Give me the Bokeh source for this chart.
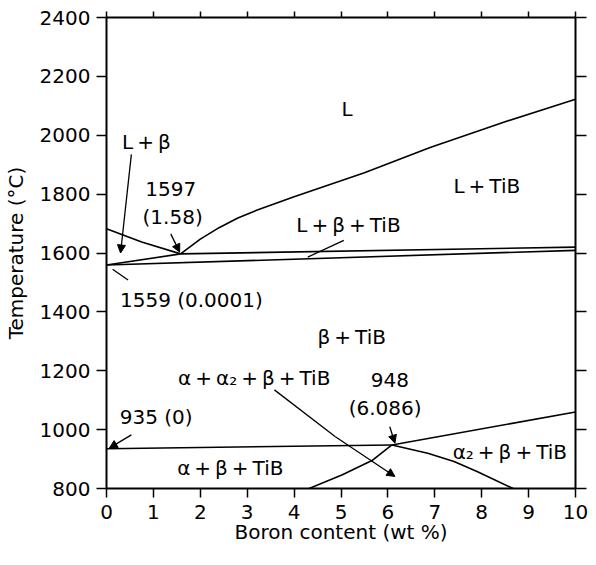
from bokeh.plotting import figure
from bokeh.models import (Range1d, LinearAxis, Arrow, NormalHead, FixedTicker,
                          ColumnDataSource)
from bokeh.core.properties import value
from bokeh.embed import file_html
from bokeh.resources import INLINE

FONT = "DejaVu Sans"
TS = "\u2009"

# ---- data -------------------------------------------------------------
x_ticks = [0, 1, 2, 3, 4, 5, 6, 7, 8, 9, 10]
y_ticks = [800, 1000, 1200, 1400, 1600, 1800, 2000, 2200, 2400]
x_title = "Boron content (wt %)"
y_title = "Temperature (°C)"

liq_left_x = [0.0, 0.75, 1.58]
liq_left_y = [1682, 1637, 1597]

liq_right_x = [1.58, 2.0, 2.4, 2.8, 3.2, 3.6, 4.0, 4.5, 5.5, 6.9, 8.5, 10.0]
liq_right_y = [1597, 1647, 1686, 1719, 1745, 1768, 1791, 1818, 1873, 1958, 2046, 2122]

sol_beta_x = [0.0, 1.58]
sol_beta_y = [1559, 1597]

eut_upper_x = [1.58, 10.0]
eut_upper_y = [1597, 1620]

eut_lower_x = [0.0, 10.0]
eut_lower_y = [1559, 1609]

eutectoid_x = [0.0, 6.086]
eutectoid_y = [935, 948]

transus_x = [6.086, 10.0]
transus_y = [948, 1060]

alpha_left_x = [4.32, 5.03, 5.66, 6.086]
alpha_left_y = [800, 847, 895, 948]

alpha2_x = [6.086, 6.85, 7.41, 7.9, 8.67]
alpha2_y = [948, 920, 892, 858, 800]

label_text = ["L", "L" + TS + "+" + TS + "TiB", "L" + TS + "+" + TS + "β" + TS + "+" + TS + "TiB",
              "L" + TS + "+" + TS + "β", "1597", "(1.58)", "1559 (0.0001)",
              "β" + TS + "+" + TS + "TiB",
              "α" + TS + "+" + TS + "α₂" + TS + "+" + TS + "β" + TS + "+" + TS + "TiB",
              "948", "(6.086)", "935 (0)",
              "α" + TS + "+" + TS + "β" + TS + "+" + TS + "TiB",
              "α₂" + TS + "+" + TS + "β" + TS + "+" + TS + "TiB"]
label_x = [5.13, 8.11, 5.16, 0.85, 1.37, 1.41, 1.81, 5.23, 3.15, 6.04, 5.94, 1.06, 2.64, 8.6]
label_y = [2089, 1829, 1694, 1976, 1818, 1722, 1440, 1315, 1174, 1168, 1072, 1044, 869, 925]

arrow_x0 = [0.53, 1.37, 6.04, 4.88, 0.53]
arrow_y0 = [1935, 1665, 1010, 976, 982]
arrow_x1 = [0.30, 1.56, 6.15, 6.15, 0.06]
arrow_y1 = [1600, 1603, 954, 841, 937]

seg_x0 = [5.06, 0.46, 3.58]
seg_y0 = [1643, 1508, 1135]
seg_x1 = [4.29, 0.13, 4.88]
seg_y1 = [1586, 1545, 976]

# ---- figure -------------------------------------------------------------
p = figure(width=588, height=549, x_range=Range1d(0, 10), y_range=Range1d(800, 2400),
           output_backend="svg", toolbar_location=None,
           min_border_left=100, min_border_right=13, min_border_top=17,
           min_border_bottom=61)
p.grid.visible = False
p.outline_line_color = None
p.background_fill_color = "white"
p.border_fill_color = "white"

def style_axis(ax, tick_out):
    ax.axis_line_width = 2
    ax.axis_line_color = "black"
    ax.major_tick_line_width = 1.5
    ax.major_tick_line_color = "black"
    ax.major_tick_out = tick_out
    ax.major_tick_in = 0
    ax.minor_tick_line_color = None
    ax.major_label_text_font = FONT
    ax.major_label_text_font_size = "20px"
    ax.major_label_text_color = "black"
    ax.axis_label_text_font = FONT
    ax.axis_label_text_font_size = "20px"
    ax.axis_label_text_font_style = "normal"
    ax.axis_label_text_color = "black"

xa = p.xaxis[0]
ya = p.yaxis[0]
xa.ticker = FixedTicker(ticks=x_ticks)
ya.ticker = FixedTicker(ticks=y_ticks)
style_axis(xa, 9)
style_axis(ya, 10)
xa.major_label_standoff = 7
xa.axis_label = x_title
xa.axis_label_standoff = -2
ya.major_label_standoff = 6
ya.axis_label = y_title
ya.axis_label_standoff = 9

top = LinearAxis(ticker=FixedTicker(ticks=x_ticks))
right = LinearAxis(ticker=FixedTicker(ticks=y_ticks))
style_axis(top, 6)
style_axis(right, 11)
for ax in (top, right):
    ax.major_label_text_font_size = "0px"
    ax.major_label_text_color = None
    ax.major_label_standoff = 0
p.add_layout(top, "above")
p.add_layout(right, "right")

# ---- phase boundaries ----------------------------------------------------
lw = 1.6
for xs, ys in [(liq_left_x, liq_left_y), (liq_right_x, liq_right_y),
               (sol_beta_x, sol_beta_y), (eut_upper_x, eut_upper_y),
               (eut_lower_x, eut_lower_y), (eutectoid_x, eutectoid_y),
               (transus_x, transus_y), (alpha_left_x, alpha_left_y),
               (alpha2_x, alpha2_y)]:
    p.line(xs, ys, line_color="black", line_width=lw, line_join="round")

# ---- leader lines and arrows ------------------------------------------------
p.segment(x0=seg_x0, y0=seg_y0, x1=seg_x1, y1=seg_y1, line_color="black", line_width=1.3)
asrc = ColumnDataSource(dict(x0=arrow_x0, y0=arrow_y0, x1=arrow_x1, y1=arrow_y1))
p.add_layout(Arrow(source=asrc, x_start="x0", y_start="y0", x_end="x1", y_end="y1",
                   line_color="black", line_width=1.3,
                   end=NormalHead(size=8, fill_color="black", line_color="black", line_width=1)))

# ---- region labels --------------------------------------------------------
lsrc = ColumnDataSource(dict(x=label_x, y=label_y, text=label_text))
p.text(x="x", y="y", text="text", source=lsrc, text_font=value(FONT),
       text_font_size="20px", text_align="center", text_baseline="middle",
       text_color="black")

open("out.html", "w").write(file_html(p, INLINE))
